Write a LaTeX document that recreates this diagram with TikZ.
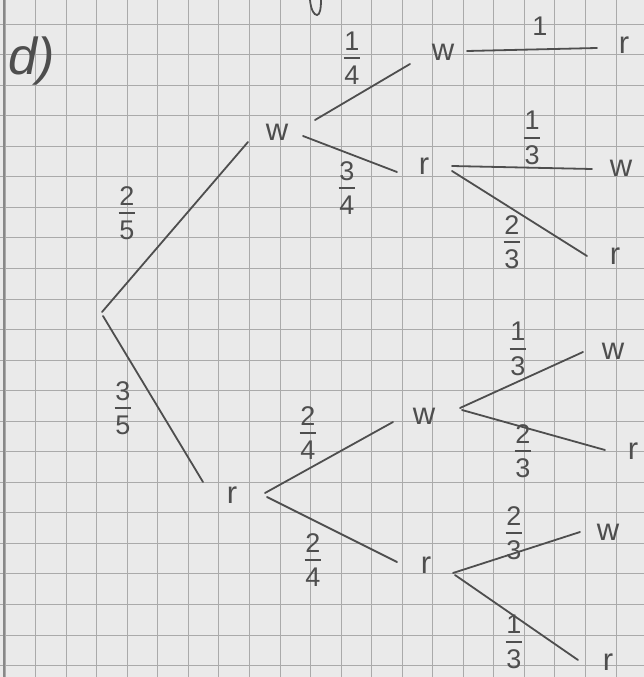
\documentclass[tikz,border=0pt]{standalone}
\usepackage{fontspec}
\setmainfont{Liberation Sans}
\definecolor{paper}{RGB}{234,234,234}
\definecolor{gridc}{RGB}{170,170,170}
\definecolor{penc}{RGB}{78,78,78}
\newcommand\myfrac[2]{\vbox{\offinterlineskip\halign{\hfil##\hfil\cr #1\cr\noalign{\kern7pt}\rule{0.62em}{1.6pt}\cr\noalign{\kern7pt}#2\cr}}}
\tikzset{
  pen/.style={draw=penc, line width=1.8pt, line cap=round},
  letter/.style={text=penc, font=\fontsize{31}{31}\selectfont, inner sep=0pt},
  fraclab/.style={text=penc, font=\fontsize{27}{27}\selectfont, inner sep=0pt},
  gridline/.style={draw=gridc, line width=0.9pt}
}
\begin{document}
\begin{tikzpicture}[x=1pt,y=-1pt]
  \fill[paper] (0,0) rectangle (644,677);
  \useasboundingbox (0,0) rectangle (644,677);
  % grid
  \foreach \i in {0,...,21} \draw[gridline] ({5+30.55*\i},0) -- ({5+30.55*\i},677);
  \foreach \j in {0,...,22} \draw[gridline] (0,{-6.55+30.55*\j}) -- (644,{-6.55+30.55*\j});
  \draw[draw=gridc!80!black, line width=1.6pt] (4,0) -- (4,677);
  % fragment at top
  \draw[pen] (310,0) .. controls (311,10) and (314,15) .. (317,15) .. controls (320,15) and (321,8) .. (321,0);
  % title
  \node[text=penc, font=\fontsize{52}{52}\selectfont\itshape, inner sep=0pt] (title) at (32,61) {d)};
  % letters
  \node[letter] (w1)  at (277,132) {w};
  \node[letter] (ww)  at (443,52) {w};
  \node[letter] (wwr) at (624,45) {r};
  \node[letter] (wr)  at (424,166) {r};
  \node[letter] (wrw) at (621,168) {w};
  \node[letter] (wrr) at (615,256) {r};
  \node[letter] (r1)  at (232,495) {r};
  \node[letter] (rw)  at (424,416) {w};
  \node[letter] (rww) at (613,351) {w};
  \node[letter] (rwr) at (633,451) {r};
  \node[letter] (rr)  at (426,565) {r};
  \node[letter] (rrw) at (608,532) {w};
  \node[letter] (rrr) at (608,662) {r};
  % connector end points
  \coordinate (R0) at (102,312);
  \coordinate (R1) at (103,316);
  \coordinate (w1in) at (248,142);
  \coordinate (r1in) at (203,482);
  \coordinate (w1a) at (315,120);
  \coordinate (w1b) at (303,136);
  \coordinate (wwin) at (410,64);
  \coordinate (wrin) at (397,172);
  \coordinate (wwa) at (467,51);
  \coordinate (wwrin) at (597,48);
  \coordinate (wra) at (452,166);
  \coordinate (wrb) at (452,171);
  \coordinate (wrwin) at (592,169);
  \coordinate (wrrin) at (587,256);
  \coordinate (r1a) at (265,493);
  \coordinate (r1b) at (267,497);
  \coordinate (rwin) at (393,422);
  \coordinate (rrin) at (397,562);
  \coordinate (rwa) at (460,408);
  \coordinate (rwb) at (462,410);
  \coordinate (rwwin) at (583,352);
  \coordinate (rwrin) at (605,450);
  \coordinate (rra) at (453,573);
  \coordinate (rrb) at (455,575);
  \coordinate (rrwin) at (580,532);
  \coordinate (rrrin) at (578,660);
  % connectors
  \draw[pen] (R0) -- (w1in);
  \draw[pen] (R1) -- (r1in);
  \draw[pen] (w1a) -- (wwin);
  \draw[pen] (w1b) -- (wrin);
  \draw[pen] (wwa) -- (wwrin);
  \draw[pen] (wra) -- (wrwin);
  \draw[pen] (wrb) -- (wrrin);
  \draw[pen] (r1a) -- (rwin);
  \draw[pen] (r1b) -- (rrin);
  \draw[pen] (rwa) -- (rwwin);
  \draw[pen] (rwb) -- (rwrin);
  \draw[pen] (rra) -- (rrwin);
  \draw[pen] (rrb) -- (rrrin);
  % probabilities
  \node[fraclab] (p1)  at (127,213) {\myfrac{2}{5}};
  \node[fraclab] (p2)  at (123,408) {\myfrac{3}{5}};
  \node[fraclab] (p3)  at (352,58)  {\myfrac{1}{4}};
  \node[fraclab] (p4)  at (347,188) {\myfrac{3}{4}};
  \node[fraclab] (p5)  at (540,26)  {1};
  \node[fraclab] (p6)  at (532,138) {\myfrac{1}{3}};
  \node[fraclab] (p7)  at (512,242) {\myfrac{2}{3}};
  \node[fraclab] (p8)  at (308,433) {\myfrac{2}{4}};
  \node[fraclab] (p9)  at (313,560) {\myfrac{2}{4}};
  \node[fraclab] (p10) at (518,349) {\myfrac{1}{3}};
  \node[fraclab] (p11) at (523,451) {\myfrac{2}{3}};
  \node[fraclab] (p12) at (514,533) {\myfrac{2}{3}};
  \node[fraclab] (p13) at (514,642) {\myfrac{1}{3}};
\end{tikzpicture}
\end{document}
